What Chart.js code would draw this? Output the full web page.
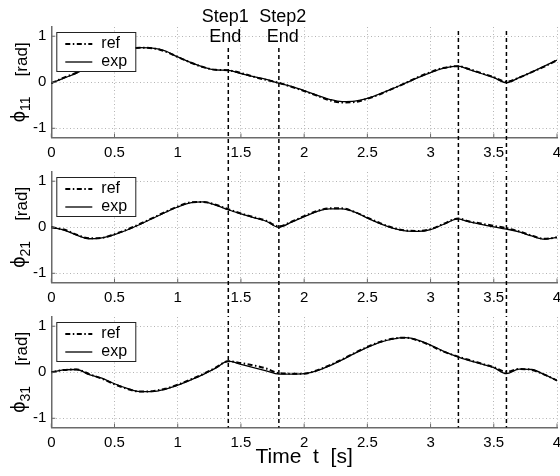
<!DOCTYPE html>
<html>
<head>
<meta charset="utf-8">
<script src="https://cdn.jsdelivr.net/npm/chart.js@4.4.1/dist/chart.umd.min.js"></script>
<style>
  body { margin: 0; background: #fff; }
  #wrap { position: relative; width: 560px; height: 476px; overflow: hidden; }
  #wrap canvas { position: absolute; left: 0; }
</style>
</head>
<body>
<div id="wrap">
  <canvas id="c1" width="560" height="175" style="top:0px"></canvas>
  <canvas id="c2" width="560" height="175" style="top:145px"></canvas>
  <canvas id="c3" width="560" height="186" style="top:290px"></canvas>
</div>
<script>
"use strict";

// Joint angles, reference vs experiment
const time = [0, 0.1, 0.2, 0.3, 0.4, 0.5, 0.6, 0.7, 0.8, 0.9, 1.0, 1.1, 1.2, 1.3, 1.4, 1.5, 1.6, 1.7, 1.8, 1.9,
    2.0, 2.1, 2.2, 2.3, 2.4, 2.5, 2.6, 2.7, 2.8, 2.9, 3.0, 3.1, 3.22, 3.3, 3.4, 3.5, 3.6, 3.7, 3.8, 3.9, 4.0];

const phi11Ref = [-0.02, 0.1, 0.21, 0.36, 0.52, 0.65, 0.72, 0.75, 0.74, 0.67, 0.55, 0.43, 0.33, 0.27, 0.26, 0.2, 0.12, 0.05, -0.01, -0.1,
    -0.19, -0.29, -0.39, -0.44, -0.43, -0.36, -0.26, -0.14, -0.02, 0.11, 0.22, 0.31, 0.35, 0.29, 0.2, 0.11, 0.01, 0.1, 0.22, 0.34, 0.48];
const phi11Exp = [-0.02, 0.09, 0.2, 0.35, 0.52, 0.65, 0.72, 0.75, 0.74, 0.68, 0.55, 0.43, 0.33, 0.27, 0.26, 0.19, 0.12, 0.06, -0.02, -0.09,
    -0.18, -0.28, -0.37, -0.42, -0.41, -0.35, -0.25, -0.14, -0.02, 0.1, 0.21, 0.3, 0.35, 0.28, 0.19, 0.1, -0.01, 0.1, 0.22, 0.35, 0.48];

const phi21Ref = [0.0, -0.05, -0.16, -0.24, -0.23, -0.15, -0.05, 0.07, 0.2, 0.33, 0.45, 0.54, 0.55, 0.49, 0.39, 0.3, 0.22, 0.14, 0.02, 0.12,
    0.24, 0.35, 0.41, 0.41, 0.33, 0.21, 0.09, -0.01, -0.07, -0.08, -0.04, 0.07, 0.19, 0.13, 0.08, 0.03, -0.02, -0.09, -0.18, -0.25, -0.22];
const phi21Exp = [0.0, -0.06, -0.17, -0.25, -0.23, -0.16, -0.06, 0.06, 0.19, 0.32, 0.44, 0.53, 0.55, 0.48, 0.38, 0.29, 0.21, 0.13, 0.0, 0.11,
    0.23, 0.34, 0.4, 0.4, 0.33, 0.2, 0.08, -0.02, -0.08, -0.09, -0.05, 0.06, 0.18, 0.12, 0.06, 0.01, -0.04, -0.1, -0.19, -0.26, -0.22];

const phi31Ref = [0.0, 0.05, 0.06, -0.04, -0.14, -0.26, -0.36, -0.42, -0.41, -0.36, -0.27, -0.16, -0.04, 0.1, 0.24, 0.2, 0.15, 0.08, -0.02, -0.03,
    -0.03, 0.04, 0.15, 0.28, 0.42, 0.55, 0.66, 0.73, 0.75, 0.69, 0.58, 0.45, 0.34, 0.27, 0.19, 0.11, 0.01, 0.07, 0.05, -0.05, -0.18];
const phi31Exp = [0.0, 0.05, 0.06, -0.05, -0.13, -0.25, -0.35, -0.42, -0.42, -0.37, -0.28, -0.17, -0.05, 0.09, 0.24, 0.17, 0.1, 0.03, -0.04, -0.04,
    -0.03, 0.03, 0.14, 0.27, 0.41, 0.54, 0.65, 0.72, 0.75, 0.7, 0.59, 0.46, 0.33, 0.26, 0.18, 0.1, -0.03, 0.07, 0.06, -0.05, -0.18];

const xTicks = [0, 0.5, 1, 1.5, 2, 2.5, 3, 3.5, 4];
const yTicks = [-1, 0, 1];
const eventTimes = [1.4, 1.8, 3.22, 3.6];
const stepNames = ["Step1", "Step2"];
const seriesNames = ["ref", "exp"];

const FONT = '"Liberation Sans", Arial, "DejaVu Sans", sans-serif';
const AXIS_COLOR = "#6a6a6a";
const GAP = 34.5; // distance between one plot's bottom and the next plot's top
const STEP_SHIFT = [-3, 4]; // keep the two step captions apart

Chart.defaults.font.family = FONT;
Chart.defaults.color = "#000";

function strokeLine(ctx, x1, y1, x2, y2) {
    ctx.beginPath();
    ctx.moveTo(x1, y1);
    ctx.lineTo(x2, y2);
    ctx.stroke();
}

// Inner ticks, event lines, step labels, legend box and the y label
const decor = {
    id: "decor",
    afterDatasetsDraw(chart, args, opts) {
        const { ctx, chartArea: a, scales: { x, y } } = chart;
        ctx.save();

        ctx.strokeStyle = AXIS_COLOR;
        ctx.lineWidth = 1;
        xTicks.forEach((v) => {
            const px = x.getPixelForValue(v);
            strokeLine(ctx, px, a.bottom, px, a.bottom - 4);
        });
        yTicks.forEach((v) => {
            const py = y.getPixelForValue(v);
            strokeLine(ctx, a.left, py, a.left + 4, py);
        });

        ctx.strokeStyle = "#000";
        ctx.lineWidth = 1.5;
        ctx.setLineDash([4, 3]);
        eventTimes.forEach((t, i) => {
            const px = x.getPixelForValue(t);
            const top = opts.steps && i < stepNames.length ? a.top + 21 : a.top + 4;
            const bottom = opts.last ? a.bottom : a.bottom + GAP;
            strokeLine(ctx, px, top, px, bottom);
        });
        ctx.setLineDash([]);

        if (opts.steps) {
            ctx.fillStyle = "#000";
            ctx.font = "18px " + FONT;
            ctx.textAlign = "center";
            ctx.textBaseline = "middle";
            stepNames.forEach((name, i) => {
                const px = x.getPixelForValue(eventTimes[i]) + STEP_SHIFT[i];
                ctx.fillText(name, px, a.top - 10);
                ctx.fillText("End", px, a.top + 10);
            });
        }
        ctx.restore();
    },
    afterDraw(chart, args, opts) {
        const { ctx, chartArea: a } = chart;
        ctx.save();

        // legend
        const bx = a.left + 5, by = a.top + 5;
        ctx.fillStyle = "#fff";
        ctx.fillRect(bx, by, 79, 39);
        ctx.strokeStyle = "#222";
        ctx.lineWidth = 1;
        ctx.strokeRect(bx + 0.5, by + 0.5, 79, 39);
        const rows = [by + 12, by + 30];
        ctx.strokeStyle = "#000";
        ctx.lineWidth = 2;
        ctx.setLineDash([5, 2.5, 1.5, 2.5]);
        strokeLine(ctx, bx + 9, rows[0], bx + 36, rows[0]);
        ctx.setLineDash([]);
        ctx.lineWidth = 1.3;
        strokeLine(ctx, bx + 9, rows[1], bx + 36, rows[1]);
        ctx.fillStyle = "#000";
        ctx.font = "16px " + FONT;
        ctx.textAlign = "left";
        ctx.textBaseline = "middle";
        seriesNames.forEach((s, i) => ctx.fillText(s, bx + 45, rows[i]));

        // y label: phi with subscript, then unit
        const symFont = "20px " + FONT, unitFont = "17px " + FONT, subFont = "14px " + FONT;
        ctx.font = symFont;
        const wSym = ctx.measureText("\u03D5").width;
        ctx.font = unitFont;
        const wUnit = ctx.measureText("[rad]").width;
        ctx.font = subFont;
        const wSub = ctx.measureText(opts.sub).width;
        const space = 20;
        const total = wSym + wSub + space + wUnit;
        ctx.translate(27, (a.top + a.bottom) / 2);
        ctx.rotate(-Math.PI / 2);
        ctx.textBaseline = "alphabetic";
        let cx = -total / 2;
        ctx.font = symFont;
        ctx.fillText("\u03D5", cx, -2);
        cx += wSym;
        ctx.font = subFont;
        ctx.fillText(opts.sub, cx, 3);
        cx += wSub + space;
        ctx.font = unitFont;
        ctx.fillText("[rad]", cx, 0);
        ctx.restore();
    },
};

function makePanel(id, sub, refData, expData, steps, last) {
    const xScale = {
        type: "linear",
        min: 0,
        max: 4,
        afterBuildTicks: (s) => { s.ticks = xTicks.map((v) => ({ value: v })); },
        afterFit: (s) => {
            s.height = last ? 48.5 : 37.5;
            s.paddingLeft = 0;
            s.paddingRight = 3;
        },
        ticks: { font: { size: 15 }, padding: 6, maxRotation: 0, callback: (v) => String(v) },
        grid: { color: "#b4b4b4", lineWidth: 1, drawTicks: false },
        border: { color: AXIS_COLOR, width: 1.5, dash: [1, 2.5] },
    };
    if (last) {
        xScale.title = {
            display: true,
            text: "Time  t  [s]",
            font: { size: 21 },
            padding: { top: 0, bottom: 6 },
        };
    }
    return new Chart(document.getElementById(id), {
        type: "line",
        data: {
            datasets: [
                {
                    label: seriesNames[0],
                    data: time.map((t, i) => ({ x: t, y: refData[i] })),
                    borderColor: "#000",
                    borderWidth: 2,
                    borderDash: [5, 2.5, 1.5, 2.5],
                    pointRadius: 0,
                    cubicInterpolationMode: "monotone",
                },
                {
                    label: seriesNames[1],
                    data: time.map((t, i) => ({ x: t, y: expData[i] })),
                    borderColor: "#000",
                    borderWidth: 1.3,
                    pointRadius: 0,
                    cubicInterpolationMode: "monotone",
                },
            ],
        },
        options: {
            responsive: false,
            animation: false,
            devicePixelRatio: 1,
            layout: { padding: { top: 27, left: 0, right: 0, bottom: 0 } },
            scales: {
                x: xScale,
                y: {
                    min: -1.2,
                    max: 1.2,
                    afterBuildTicks: (s) => { s.ticks = yTicks.map((v) => ({ value: v })); },
                    afterFit: (s) => { s.width = 51.3; },
                    ticks: { font: { size: 15 }, padding: 5, callback: (v) => String(v) },
                    grid: { color: "#b4b4b4", lineWidth: 1, drawTicks: false },
                    border: { color: AXIS_COLOR, width: 1.5, dash: [1, 2.5] },
                },
            },
            plugins: {
                legend: { display: false },
                tooltip: { enabled: false },
                decor: { sub: sub, steps: steps, last: last },
            },
        },
        plugins: [decor],
    });
}

makePanel("c1", "11", phi11Ref, phi11Exp, true, false);
makePanel("c2", "21", phi21Ref, phi21Exp, false, false);
makePanel("c3", "31", phi31Ref, phi31Exp, false, true);
</script>
</body>
</html>
